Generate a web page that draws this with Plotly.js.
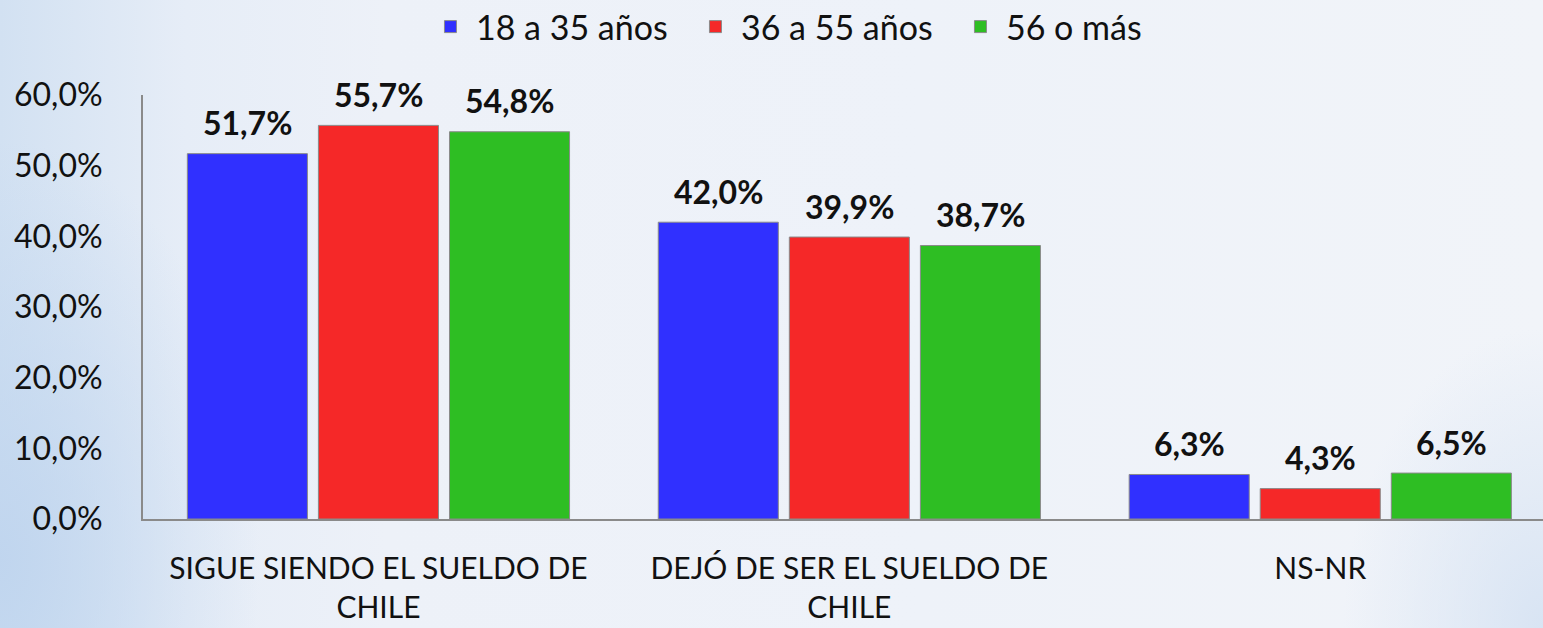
<!DOCTYPE html>
<html>
<head>
<meta charset="utf-8">
<script src="https://cdn.plot.ly/plotly-3.0.1.min.js"></script>
<style>
html, body { margin:0; padding:0; width:1543px; height:628px; overflow:hidden; }
body {
  background:
    radial-gradient(ellipse 260px 420px at 0px 560px, rgba(190,212,238,0.9), rgba(190,212,238,0) 100%),
    radial-gradient(ellipse 200px 300px at 1543px 628px, rgba(210,224,242,0.8), rgba(210,224,242,0) 100%),
    linear-gradient(to right, #d2e1f2 0%, #e6edf7 12%, #edf1f8 25%, #eef2f9 60%, #f1f4f9 100%);
}
#chart { width:1543px; height:628px; }
</style>
</head>
<body>
<div id="chart"></div>
<script>
const categories = ["SIGUE SIENDO EL SUELDO DE<br>CHILE", "DEJÓ DE SER EL SUELDO DE<br>CHILE", "NS-NR"];
const seriesNames = ["18 a 35 años", "36 a 55 años", "56 o más"];
const age18to35 = [51.7, 42.0, 6.3];
const age36to55 = [55.7, 39.9, 4.3];
const age56plus = [54.8, 38.7, 6.5];
const yTickVals = [0, 10, 20, 30, 40, 50, 60];
const yTickText = ["0,0%", "10,0%", "20,0%", "30,0%", "40,0%", "50,0%", "60,0%"];

const colors = ["#3030ff", "#f52828", "#2ebe23"];
const allSeries = [age18to35, age36to55, age56plus];
const fontFam = "Lato, 'Open Sans', sans-serif";
const bargap = 0.165;

const fmt = v => v.toFixed(1).replace('.', ',') + '%';

const traces = allSeries.map((vals, s) => ({
  type: 'bar',
  name: seriesNames[s],
  x: categories,
  y: vals,
  marker: { color: colors[s], line: { color: '#8a8a8a', width: 1 } },
  hoverinfo: 'skip'
}));

const slot = (1 - bargap) / 3;
const annotations = [];
allSeries.forEach((vals, s) => {
  vals.forEach((v, i) => {
    annotations.push({
      x: i + (s - 1) * slot,
      y: v,
      xref: 'x', yref: 'y',
      text: '<b>' + fmt(v) + '</b>',
      showarrow: false,
      yanchor: 'middle',
      yshift: 31,
      font: { family: fontFam, size: 32, color: '#111' }
    });
  });
});

const layout = {
  width: 1543, height: 628,
  margin: { l: 143, r: 0, t: 95, b: 109, pad: 0, autoexpand: false },
  paper_bgcolor: 'rgba(0,0,0,0)',
  plot_bgcolor: 'rgba(0,0,0,0)',
  barmode: 'group',
  bargap: bargap,
  bargroupgap: 0.084,
  font: { family: fontFam, size: 32, color: '#111' },
  showlegend: true,
  legend: {
    orientation: 'h',
    xref: 'paper',
    x: 0.2014, xanchor: 'left',
    yref: 'container',
    y: 0.957, yanchor: 'middle',
    font: { family: fontFam, size: 34, color: '#111' },
    bgcolor: 'rgba(0,0,0,0)',
    itemwidth: 41,
    entrywidth: 209,
    entrywidthmode: 'pixels',
    traceorder: 'normal'
  },
  xaxis: {
    type: 'category',
    range: [-0.5, 2.473],
    showline: true, linecolor: '#8a8a8a', linewidth: 2,
    showgrid: false, ticks: '', zeroline: false,
    tickfont: { family: fontFam, size: 30, color: '#111' },
    ticklabelstandoff: 22,
    fixedrange: true
  },
  yaxis: {
    range: [0, 60],
    tickvals: yTickVals, ticktext: yTickText,
    showline: true, linecolor: '#8a8a8a', linewidth: 2,
    showgrid: false, ticks: '', zeroline: false,
    tickfont: { family: fontFam, size: 32, color: '#111' },
    ticklabelstandoff: 32,
    fixedrange: true
  },
  annotations: annotations
};

Plotly.newPlot('chart', traces, layout, { displayModeBar: false, staticPlot: true });
</script>
</body>
</html>
